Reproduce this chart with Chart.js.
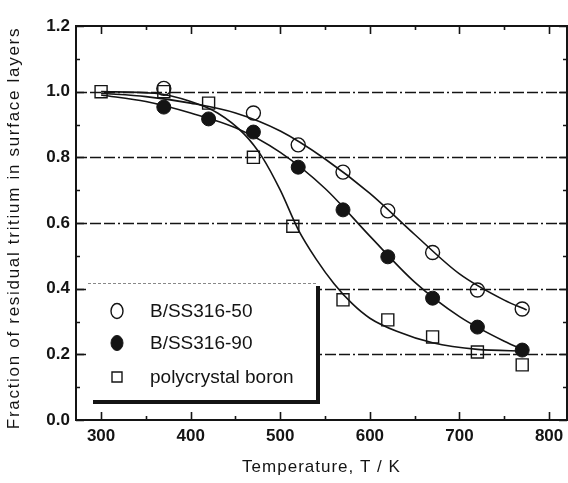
<!DOCTYPE html>
<html><head><meta charset="utf-8">
<script src="https://cdn.jsdelivr.net/npm/chart.js@4/dist/chart.umd.min.js"></script>
<style>html,body{margin:0;padding:0;background:#fff;}#wrap{width:568px;height:483px;}</style>
</head><body><div id="wrap"><canvas id="c" width="568" height="483"></canvas></div>
<script>
// ---- data ----
const temps = [300, 370, 420, 470, 520, 570, 620, 670, 720, 770];
const ss316_50 = [null, 1.01, null, 0.935, 0.838, 0.755, 0.637, 0.51, 0.396, 0.338];
const ss316_90 = [null, 0.953, 0.917, 0.877, 0.77, 0.64, 0.497, 0.371, 0.283, 0.213];
const boronT = [300, 370, 420, 470, 514, 570, 620, 670, 720, 770];
const polyBoron = [1.0, 1.0, 0.965, 0.80, 0.59, 0.366, 0.305, 0.253, 0.207, 0.168];

const fitT_50 = [300, 350, 400, 450, 500, 550, 600, 650, 700, 750, 775];
const fit_50 = [0.995, 0.985, 0.965, 0.935, 0.88, 0.795, 0.69, 0.565, 0.445, 0.365, 0.335];
const fitT_90 = [300, 350, 400, 450, 500, 550, 600, 650, 700, 750, 775];
const fit_90 = [0.99, 0.97, 0.935, 0.89, 0.815, 0.705, 0.56, 0.42, 0.315, 0.24, 0.21];
const fitT_B = [300, 360, 400, 430, 460, 480, 500, 520, 540, 560, 580, 600, 630, 670, 720, 775];
const fit_B = [1.0, 0.995, 0.97, 0.935, 0.87, 0.80, 0.70, 0.58, 0.49, 0.415, 0.355, 0.31, 0.27, 0.235, 0.215, 0.21];

const seriesLabels = ['B/SS316-50', 'B/SS316-90', 'polycrystal boron'];
const xTitle = 'Temperature, T / K';
const yTitle = 'Fraction of residual tritium in surface layers';
const gridValues = [0.2, 0.4, 0.6, 0.8, 1.0];

const pts = (xs, ys) => xs.map((x, i) => ({x, y: ys[i]})).filter(p => p.y !== null);

const INK = '#141414';
const FONT = '"Liberation Sans", Arial, sans-serif';

const fitLine = (xs, ys) => ({
  data: pts(xs, ys), showLine: true, pointRadius: 0, borderColor: INK, borderWidth: 1.6,
  cubicInterpolationMode: 'monotone', fill: false
});

const markerSets = [
  {label: seriesLabels[2], data: pts(boronT, polyBoron), pointStyle: 'rect', pointRadius: 8.5,
   backgroundColor: 'rgba(255,255,255,0)', borderColor: INK, pointBorderWidth: 1.4, showLine: false},
  {label: seriesLabels[0], data: pts(temps, ss316_50), pointStyle: 'circle', pointRadius: 7,
   backgroundColor: 'rgba(255,255,255,0)', borderColor: INK, pointBorderWidth: 1.4, showLine: false},
  {label: seriesLabels[1], data: pts(temps, ss316_90), pointStyle: 'circle', pointRadius: 7,
   backgroundColor: INK, borderColor: INK, pointBorderWidth: 1, showLine: false},
];

const decor = {
  id: 'decor',
  beforeDatasetsDraw(chart) {
    const {ctx, chartArea: a, scales: {x, y}} = chart;
    ctx.save();
    ctx.strokeStyle = INK; ctx.lineWidth = 1.7;
    ctx.setLineDash([11, 3, 11, 3, 11, 3, 2, 3]);
    for (const v of gridValues) {
      const py = Math.round(y.getPixelForValue(v)) + 0.5;
      ctx.beginPath(); ctx.moveTo(a.left, py); ctx.lineTo(a.right, py); ctx.stroke();
    }
    ctx.setLineDash([]);
    ctx.lineWidth = 2;
    ctx.strokeRect(a.left, a.top, a.right - a.left, a.bottom - a.top);
    ctx.lineWidth = 1.6;
    const xt = x.ticks.map(t => t.value);
    const xAll = [];
    xt.forEach((v, i) => { xAll.push([v, 8]); if (i < xt.length - 1) xAll.push([(v + xt[i + 1]) / 2, 4]); });
    for (const [v, len] of xAll) {
      const px = Math.round(x.getPixelForValue(v)) + 0.5;
      ctx.beginPath(); ctx.moveTo(px, a.bottom); ctx.lineTo(px, a.bottom - len);
      ctx.moveTo(px, a.top); ctx.lineTo(px, a.top + len); ctx.stroke();
    }
    const yt = y.ticks.map(t => t.value);
    const yAll = [];
    yt.forEach((v, i) => { yAll.push([v, 8]); if (i < yt.length - 1) yAll.push([(v + yt[i + 1]) / 2, 4]); });
    for (const [v, len] of yAll) {
      const py = Math.round(y.getPixelForValue(v)) + 0.5;
      ctx.beginPath(); ctx.moveTo(a.left, py); ctx.lineTo(a.left + len, py);
      ctx.moveTo(a.right, py); ctx.lineTo(a.right - len, py); ctx.stroke();
    }
    ctx.restore();
  },
  afterDatasetsDraw(chart) {
    const {ctx, chartArea: a} = chart;
    ctx.save();
    // legend box
    const L = 86, T = 283, R = 320, B = 404;
    ctx.fillStyle = '#fff';
    ctx.fillRect(L, T, R - L, B - T);
    ctx.strokeStyle = '#888'; ctx.lineWidth = 1;
    ctx.setLineDash([3, 2]);
    ctx.beginPath(); ctx.moveTo(L + 2, T + 0.5); ctx.lineTo(R - 2, T + 0.5); ctx.stroke();
    ctx.setLineDash([]);
    ctx.fillStyle = INK;
    ctx.fillRect(R - 4, T + 3, 4, B - T - 3);
    ctx.fillRect(L + 7, B - 4, R - L - 7, 4);
    const order = [1, 2, 0];
    const rows = [311, 343, 377];
    ctx.font = '19px ' + FONT;
    ctx.textBaseline = 'middle';
    order.forEach((di, k) => {
      const ds = chart.data.datasets[di];
      const cy = rows[k], cx = 117;
      ctx.fillStyle = ds.backgroundColor; ctx.strokeStyle = ds.borderColor; ctx.lineWidth = ds.pointBorderWidth;
      ctx.beginPath();
      if (ds.pointStyle === 'rect') { ctx.rect(cx - 5, cy - 5, 10, 10); }
      else { ctx.ellipse(cx, cy, 6, 7.5, 0, 0, Math.PI * 2); }
      ctx.fill(); ctx.stroke();
      ctx.fillStyle = INK;
      ctx.fillText(ds.label, 150, cy + 1);
    });
    // axis titles (letter-spaced, as in the reference)
    ctx.fillStyle = INK;
    ctx.textAlign = 'center'; ctx.textBaseline = 'middle';
    ctx.font = '17px ' + FONT;
    ctx.letterSpacing = '1px';
    ctx.fillText(xTitle, (a.left + a.right) / 2, 467);
    ctx.save();
    ctx.translate(14, (a.top + a.bottom) / 2 + 5);
    ctx.rotate(-Math.PI / 2);
    ctx.letterSpacing = '1.7px';
    ctx.fillText(yTitle, 0, 0);
    ctx.restore();
    ctx.restore();
  }
};

new Chart(document.getElementById('c'), {
  type: 'scatter',
  data: {
    datasets: [
      ...markerSets,
      fitLine(fitT_50, fit_50),
      fitLine(fitT_90, fit_90),
      fitLine(fitT_B, fit_B),
    ]
  },
  options: {
    responsive: false, animation: false, devicePixelRatio: 1,
    layout: {autoPadding: false, padding: {top: 26, right: 1, left: 0, bottom: 0}},
    plugins: {legend: {display: false}, tooltip: {enabled: false}},
    scales: {
      x: {
        type: 'linear', min: 272, max: 820,
        ticks: {stepSize: 100, includeBounds: false, color: INK, padding: 6,
                font: {family: FONT, size: 17, weight: 'bold'}, maxRotation: 0},
        grid: {display: false, drawTicks: false}, border: {display: false},
        title: {display: false},
        afterFit(s) { s.height = 63; s.paddingLeft = 0; s.paddingRight = 0; }
      },
      y: {
        type: 'linear', min: 0, max: 1.2,
        ticks: {stepSize: 0.2, color: INK, padding: 6,
                font: {family: FONT, size: 17, weight: 'bold'},
                callback: v => (Math.round(v * 10) / 10).toFixed(1)},
        grid: {display: false, drawTicks: false}, border: {display: false},
        title: {display: false},
        afterFit(s) { s.width = 76; s.paddingTop = 0; s.paddingBottom = 0; }
      }
    }
  },
  plugins: [decor]
});
</script>
</body></html>
